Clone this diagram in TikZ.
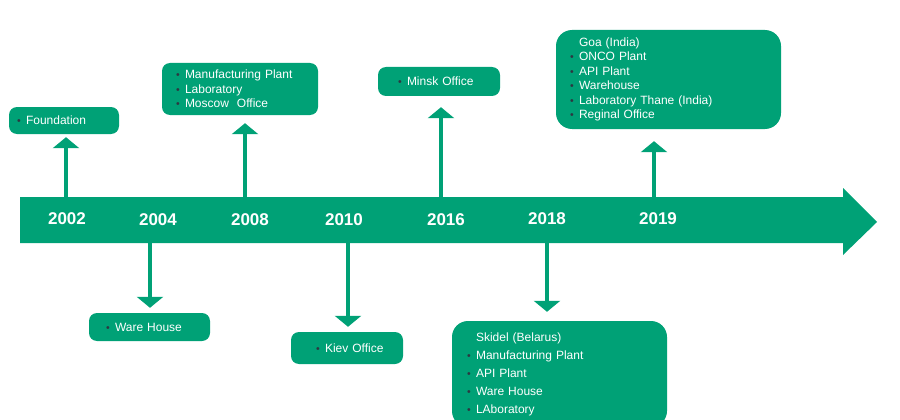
\documentclass[tikz,border=0pt]{standalone}
\usepackage{fontspec}
\setmainfont{Liberation Sans}
\usetikzlibrary{arrows.meta}
\definecolor{tlgreen}{RGB}{0,161,118}
\definecolor{bulgray}{RGB}{45,55,65}
\newcommand{\bul}{\makebox[9pt][l]{\textcolor{bulgray}{\fontsize{10.5}{10.5}\selectfont\textbullet}}}
\newcommand{\nobul}{\hspace*{9pt}}
\tikzset{
  evbox/.style={fill=tlgreen, rounded corners=8pt, text=white, align=left,
    inner ysep=0pt, font=\fontsize{12}{14.5}\selectfont},
  bigbox/.style={evbox, rounded corners=16pt},
  year/.style={text=white, font=\fontsize{17}{17}\selectfont\bfseries},
  stem/.style={draw=tlgreen, line width=4.5pt, -{Triangle[width=26pt,length=11pt]}},
}

\begin{document}
\begin{tikzpicture}[x=1pt,y=-1pt]
  \clip (0,0) rectangle (900,420);
  % time line
  \fill[tlgreen] (20,197) -- (843,197) -- (843,188) -- (877,222) -- (843,255)
    -- (843,243) -- (20,243) -- cycle;
  \node[year] (y02) at (67,218.5) {2002};
  \node[year] (y04) at (158,220) {2004};
  \node[year] (y08) at (250,220) {2008};
  \node[year] (y10) at (344,220) {2010};
  \node[year] (y16) at (446,220) {2016};
  \node[year] (y18) at (547,219) {2018};
  \node[year] (y19) at (658,219) {2019};
  % events above
  \node[evbox, minimum width=110, minimum height=27, inner xsep=8, text width=94]
    (b02) at (64,120.5) {\bul Foundation};
  \node[evbox, minimum width=156, minimum height=52, inner xsep=14, text width=128]
    (b08) at (240,89) {\bul Manufacturing Plant\\ \bul Laboratory\\ \bul Moscow\ \ Office};
  \node[evbox, minimum width=122, minimum height=29, inner xsep=20, text width=82]
    (b16) at (439,81.5) {\bul Minsk Office};
  \node[bigbox, minimum width=225, minimum height=99, inner xsep=14, text width=197]
    (b19) at (668.5,79.5) {\nobul Goa (India)\\ \bul ONCO Plant\\ \bul API Plant\\
    \bul Warehouse\\ \bul Laboratory Thane (India)\\ \bul Reginal Office};
  % events below
  \node[evbox, minimum width=121, minimum height=28, inner xsep=17, text width=87]
    (b04) at (149.5,327) {\bul Ware House};
  \node[evbox, minimum width=112, minimum height=32, inner xsep=15, text width=82]
    (b10) at (347,348) {\hspace*{10pt}\bul Kiev Office};
  \node[bigbox, minimum width=215, minimum height=106, inner xsep=15, text width=185,
    font=\fontsize{12}{18}\selectfont]
    (b18) at (559.5,374) {\nobul Skidel (Belarus)\\ \bul Manufacturing Plant\\ \bul API Plant\\
    \bul Ware House\\ \bul LAboratory};
  % stems
  \coordinate (s02) at (66,197);
  \coordinate (s08) at (245,197);
  \coordinate (s16) at (441,197);
  \coordinate (s19) at (654,197);
  \coordinate (s04) at (150,243);
  \coordinate (s10) at (348,243);
  \coordinate (s18) at (547,243);
  \draw[stem, shorten >=3pt] (s02) -- (s02 |- b02.south);
  \draw[stem, shorten >=8pt] (s08) -- (s08 |- b08.south);
  \draw[stem, shorten >=11pt] (s16) -- (s16 |- b16.south);
  \draw[stem, shorten >=12pt] (s19) -- (s19 |- b19.south);
  \draw[stem, shorten >=5pt] (s04) -- (s04 |- b04.north);
  \draw[stem, shorten >=5pt] (s10) -- (s10 |- b10.north);
  \draw[stem, shorten >=9pt] (s18) -- (s18 |- b18.north);
\end{tikzpicture}
\end{document}
